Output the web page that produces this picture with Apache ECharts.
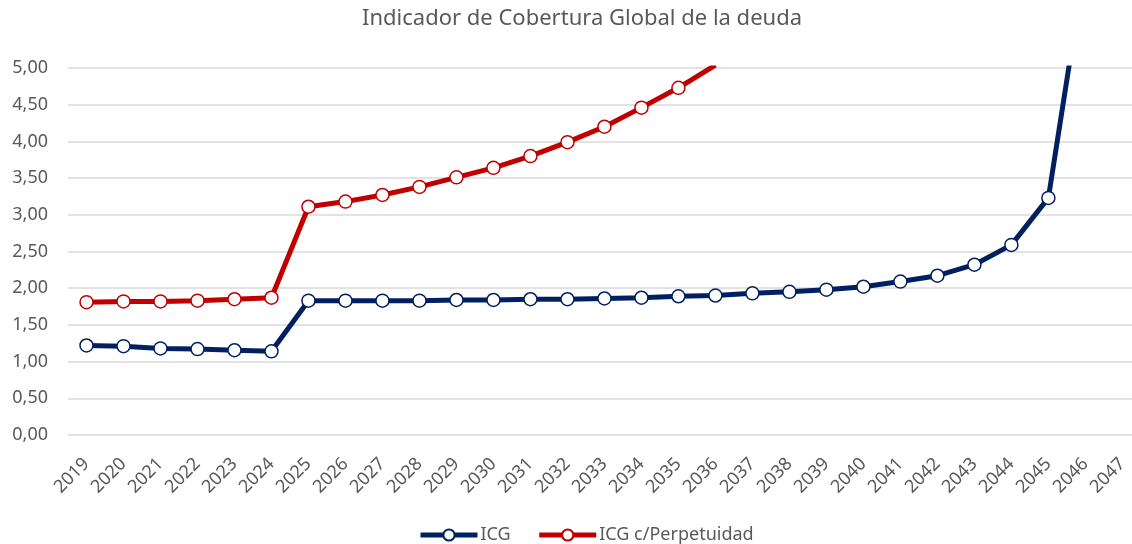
<!DOCTYPE html>
<html>
<head>
<meta charset="utf-8">
<script src="https://cdn.jsdelivr.net/npm/echarts@6/dist/echarts.min.js"></script>
<style>
  html, body { margin: 0; padding: 0; background: #fff; }
  #chart { width: 1132px; height: 544px; }
</style>
</head>
<body>
<div id="chart"></div>
<script>
const years = [2019, 2020, 2021, 2022, 2023, 2024, 2025, 2026, 2027, 2028,
  2029, 2030, 2031, 2032, 2033, 2034, 2035, 2036, 2037, 2038,
  2039, 2040, 2041, 2042, 2043, 2044, 2045, 2046, 2047]

const icg = [1.22, 1.21, 1.18, 1.17, 1.155, 1.14, 1.83, 1.83, 1.83, 1.83,
  1.84, 1.84, 1.85, 1.85, 1.86, 1.87, 1.89, 1.90, 1.93, 1.95,
  1.98, 2.02, 2.09, 2.17, 2.32, 2.59, 3.23, 6.45, null]

const icgPerp = [1.81, 1.82, 1.82, 1.83, 1.85, 1.87, 3.11, 3.18, 3.27, 3.38,
  3.51, 3.64, 3.80, 3.99, 4.20, 4.46, 4.73, 5.04, null, null,
  null, null, null, null, null, null, null, null, null]

const font = 'Noto Sans'
const grey = '#595959'

// pair every value with its year, skipping the years with no reading
function pairs(values) {
  return years.map((y, i) => [y, values[i]]).filter(p => p[1] !== null)
}

function lineSeries(name, values, color) {
  return {
    name: name,
    type: 'line',
    data: pairs(values),
    clip: true,
    symbol: 'circle',
    symbolSize: 13,
    lineStyle: { color: color, width: 5 },
    itemStyle: { color: '#fff', borderColor: color, borderWidth: 1.5 },
    emphasis: { disabled: true }
  }
}

const chart = echarts.init(document.getElementById('chart'))
chart.setOption({
  animation: false,
  title: {
    text: 'Indicador de Cobertura Global de la deuda',
    left: 357,
    top: 3,
    textStyle: { fontFamily: font, fontSize: 22, fontWeight: 'normal', color: grey }
  },
  legend: {
    top: 526,
    left: 418,
    padding: 0,
    itemWidth: 57,
    itemHeight: 14,
    itemGap: 26,
    lineStyle: { width: 5 },
    textStyle: { fontFamily: font, fontSize: 18, color: grey, padding: [0, 0, 0, -2] },
    data: ['ICG', 'ICG c/Perpetuidad']
  },
  grid: { left: 68, right: 0, top: 68, bottom: 109, containLabel: false },
  xAxis: {
    type: 'value',
    min: 2018.5,
    max: 2047.26,
    axisLine: { show: false },
    axisTick: { show: false },
    splitLine: { show: false },
    axisLabel: {
      rotate: 45, fontFamily: font, fontSize: 18, color: grey, margin: 26,
      customValues: years,
      formatter: v => String(v)
    }
  },
  yAxis: {
    type: 'value',
    min: 0,
    max: 5,
    interval: 0.5,
    axisLine: { show: false },
    axisTick: { show: false },
    splitLine: { lineStyle: { color: '#d9d9d9', width: 1.5 } },
    axisLabel: {
      fontFamily: font, fontSize: 18, color: grey, margin: 20,
      formatter: v => v.toFixed(2).replace('.', ',')
    }
  },
  series: [
    lineSeries('ICG', icg, '#002060'),
    lineSeries('ICG c/Perpetuidad', icgPerp, '#c00000')
  ]
})
</script>
</body>
</html>
